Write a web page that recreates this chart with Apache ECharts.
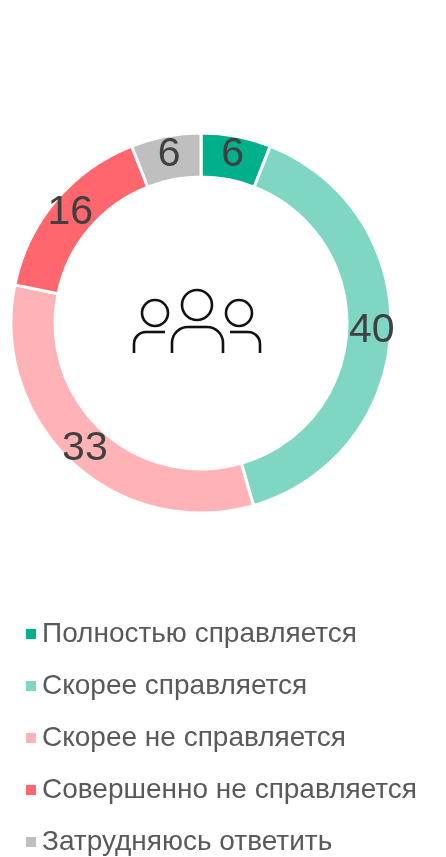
<!DOCTYPE html>
<html>
<head>
<meta charset="utf-8">
<style>
  html, body { margin: 0; padding: 0; background: #fff; }
  #main { width: 446px; height: 857px; }
</style>
<script src="https://cdn.jsdelivr.net/npm/echarts@6/dist/echarts.min.js"></script>
</head>
<body>
<div id="main"></div>
<script>
var categories = [
  "Полностью справляется",
  "Скорее справляется",
  "Скорее не справляется",
  "Совершенно не справляется",
  "Затрудняюсь ответить"
];
var values = [6, 40, 33, 16, 6];
var colors = ["#00B08C", "#7FD6C2", "#FFB3B6", "#FF666E", "#BFBFBF"];

var pieData = categories.map(function (name, i) {
  return { name: name, value: values[i] };
});

var iconStyle = { fill: "none", stroke: "#111", lineWidth: 2.6 };

function line(x1, y1, x2, y2) {
  return { type: "line", shape: { x1: x1, y1: y1, x2: x2, y2: y2 }, style: iconStyle };
}
function arc(cx, cy, r, from, to) {
  return { type: "arc", shape: { cx: cx, cy: cy, r: r, startAngle: from, endAngle: to, clockwise: true }, style: iconStyle };
}

var myChart = echarts.init(document.getElementById("main"), null, { renderer: "canvas" });
myChart.setOption({
  animation: false,
  color: colors,
  legend: {
    orient: "vertical",
    left: 24,
    top: 620,
    padding: 0,
    itemWidth: 12,
    itemHeight: 12,
    itemGap: 24,
    icon: "rect",
    selectedMode: false,
    textStyle: {
      fontFamily: "Liberation Sans",
      fontSize: 28,
      color: "#595959"
    },
    data: categories
  },
  series: [
    {
      type: "pie",
      center: [201, 323],
      radius: [146, 190],
      startAngle: 90,
      clockwise: true,
      avoidLabelOverlap: false,
      itemStyle: { borderColor: "#fff", borderWidth: 3 },
      label: {
        show: true,
        position: "inside",
        formatter: "{c}",
        fontFamily: "Liberation Sans",
        fontSize: 41,
        color: "#404040"
      },
      labelLine: { show: false },
      emphasis: { disabled: true },
      data: pieData
    }
  ],
  graphic: [
    // people icon in the middle of the ring
    { type: "circle", shape: { cx: 197, cy: 305, r: 15 }, style: iconStyle },
    { type: "circle", shape: { cx: 155, cy: 313, r: 13 }, style: iconStyle },
    { type: "circle", shape: { cx: 239, cy: 313, r: 13 }, style: iconStyle },
    line(172, 353, 172, 343),
    arc(188, 343, 16, Math.PI, Math.PI * 1.5),
    line(188, 327, 207, 327),
    arc(207, 343, 16, Math.PI * 1.5, Math.PI * 2),
    line(223, 343, 223, 353),
    line(134, 353, 134, 344),
    arc(146, 344, 12, Math.PI, Math.PI * 1.5),
    line(146, 332, 165, 332),
    line(230, 332, 248, 332),
    arc(248, 344, 12, Math.PI * 1.5, Math.PI * 2),
    line(260, 344, 260, 353)
  ]
});
</script>
</body>
</html>
